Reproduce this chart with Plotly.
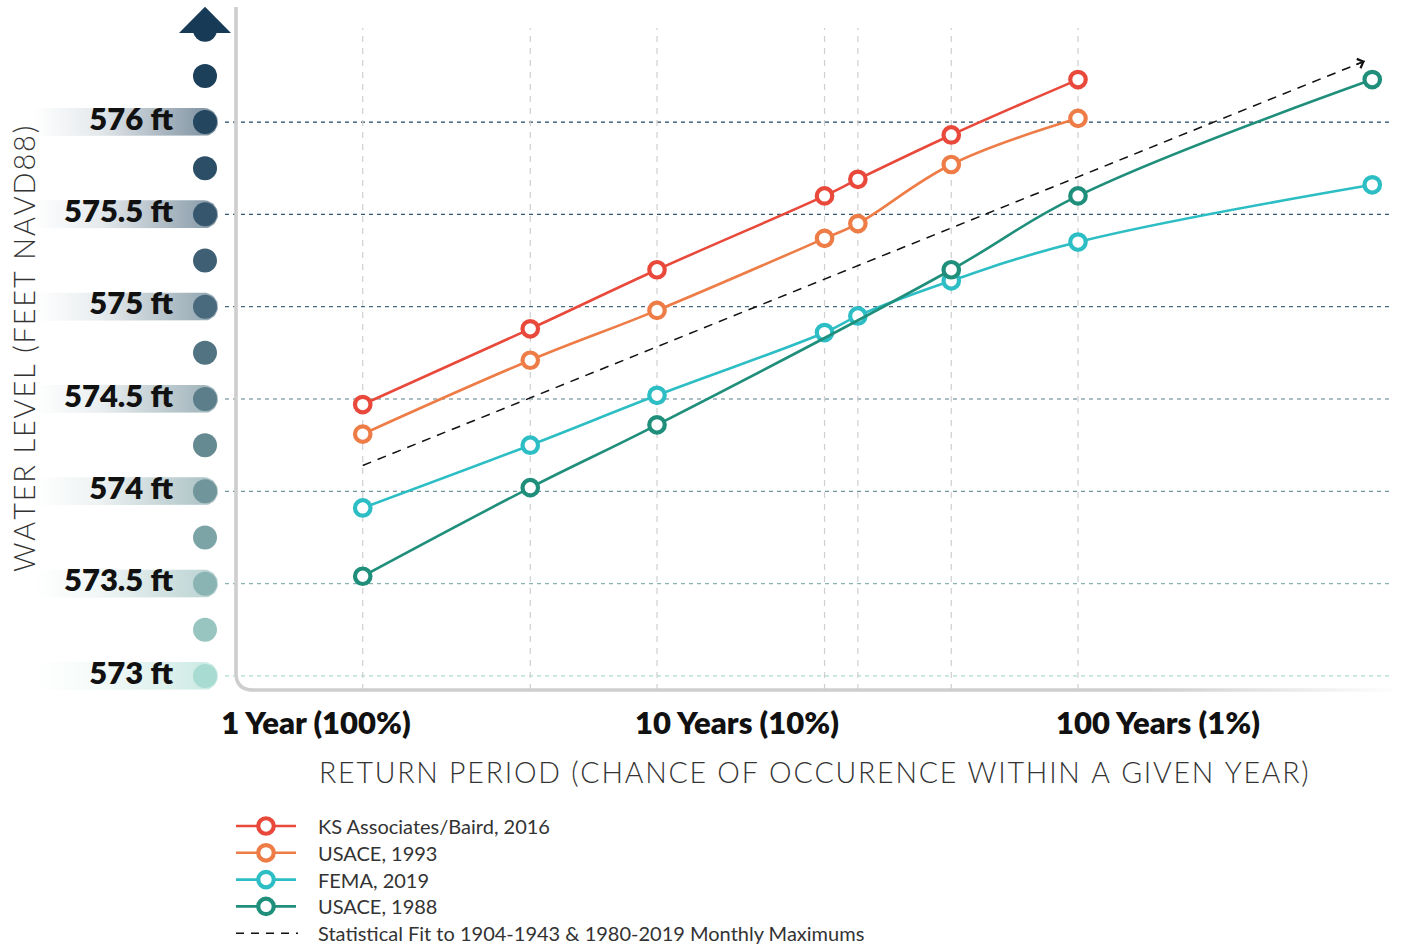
import numpy as np
import plotly.graph_objects as go

W, H = 1403, 948

# ---------------- data ----------------
ks_periods = [2, 5, 10, 25, 30, 50, 100]
ks_levels = [574.47, 574.88, 575.20, 575.60, 575.69, 575.93, 576.23]

usace93_periods = [2, 5, 10, 25, 30, 50, 100]
usace93_levels = [574.31, 574.71, 574.98, 575.37, 575.45, 575.77, 576.02]

fema_periods = [2, 5, 10, 25, 30, 50, 100, 500]
fema_levels = [573.91, 574.25, 574.52, 574.86, 574.95, 575.14, 575.35, 575.66]

usace88_periods = [2, 5, 10, 50, 100, 500]
usace88_levels = [573.54, 574.02, 574.36, 575.20, 575.60, 576.23]

fit_periods = [2, 480]
fit_levels = [574.14, 576.33]

grid_periods = [2, 5, 10, 25, 30, 50, 100]

series_names = ["KS Associates/Baird, 2016", "USACE, 1993", "FEMA, 2019", "USACE, 1988"]
series_colors = ["#E8493B", "#EE7C46", "#2CBEC4", "#1F8F7B"]
fit_name = "Statistical Fit to 1904-1943 & 1980-2019 Monthly Maximums"

tick_periods = [1, 10, 100]
tick_labels = ["1 Year (100%)", "10 Years (10%)", "100 Years (1%)"]

label_levels = [576, 575.5, 575, 574.5, 574, 573.5, 573]
label_texts = ["576 ft", "575.5 ft", "575 ft", "574.5 ft", "574 ft", "573.5 ft", "573 ft"]
gauge_levels = [576.5, 576.25, 576, 575.75, 575.5, 575.25, 575, 574.75, 574.5,
                574.25, 574, 573.75, 573.5, 573.25, 573]
gauge_colors = ["#173A56", "#1C3F5A", "#24465F", "#2C4E66", "#35566D", "#3E5F74", "#486A7C",
                "#527482", "#5B7E8A", "#668A92", "#70969B", "#7CA4A6", "#8AB4B3", "#99C5C0", "#A8DBD1"]

x_title = "RETURN PERIOD (CHANCE OF OCCURENCE WITHIN A GIVEN YEAR)"
y_title = "WATER LEVEL (FEET NAVD88)"

# ---------------- layout geometry ----------------
PLOT_L, PLOT_R, PLOT_B = 236, 1395, 690
X_RANGE = [0, 2.753]
Y_RANGE = [572.924, 576.661]
PX_PER_FT = PLOT_B / (Y_RANGE[1] - Y_RANGE[0])

def spaced(s, gap="\u200a"):
    return gap.join(list(s))

def hexrgb(c):
    c = c.lstrip("#")
    return tuple(int(c[i:i + 2], 16) for i in (0, 2, 4))

fig = go.Figure()

# ---------------- gauge (left decoration) ----------------
color_of = dict(zip(gauge_levels, gauge_colors))
half = 14 / PX_PER_FT
for lvl, txt in zip(label_levels, label_texts):
    r, g, b = hexrgb(color_of[lvl])
    ang = np.linspace(-np.pi / 2, np.pi / 2, 25)
    bx = [34, 204] + list(204 + 14 * np.cos(ang)) + [204, 34]
    by = [lvl - half, lvl - half] + list(lvl + half * np.sin(ang)) + [lvl + half, lvl + half]
    fig.add_trace(go.Scatter(
        x=bx, y=by, xaxis="x2", yaxis="y", mode="lines", fill="toself",
        line=dict(width=0), hoverinfo="skip", showlegend=False,
        fillgradient=dict(type="horizontal",
                          colorscale=[[0, f"rgba({r},{g},{b},0)"], [0.35, f"rgba({r},{g},{b},0.12)"],
                                      [1, f"rgba({r},{g},{b},0.62)"]]),
    ))

# top arrow of the gauge
fig.add_trace(go.Scatter(
    x=[179, 205, 231, 179], y=[576.482, 576.625, 576.482, 576.482], xaxis="x2", yaxis="y",
    mode="lines", fill="toself", fillcolor=gauge_colors[0], line=dict(width=0, color=gauge_colors[0]),
    hoverinfo="skip", showlegend=False))

fig.add_trace(go.Scatter(
    x=[205] * len(gauge_levels), y=gauge_levels, xaxis="x2", yaxis="y", mode="markers",
    marker=dict(size=24, color=gauge_colors, line=dict(width=0)),
    hoverinfo="skip", showlegend=False))

fig.add_trace(go.Scatter(
    x=[173] * len(label_levels), y=label_levels, xaxis="x2", yaxis="y", mode="text",
    text=label_texts, textposition="middle left",
    textfont=dict(family="Lato", size=31, color="#111111", weight=800),
    hoverinfo="skip", showlegend=False))

# ---------------- main series ----------------
all_series = [(ks_periods, ks_levels), (usace93_periods, usace93_levels),
              (fema_periods, fema_levels), (usace88_periods, usace88_levels)]

fig.add_trace(go.Scatter(
    x=fit_periods, y=fit_levels, mode="lines", name=fit_name,
    line=dict(color="#111111", width=1.5, dash="9px,7px"), showlegend=False))

for (px, py), nm, col in zip(all_series, series_names, series_colors):
    fig.add_trace(go.Scatter(
        x=px, y=py, mode="lines+markers", name=nm,
        line=dict(color=col, width=2.6, shape="spline", smoothing=1.1),
        marker=dict(symbol="circle", size=15.5, color="white", line=dict(color=col, width=4.2)),
        showlegend=False))

# ---------------- manual legend ----------------
LEG_Y0, LEG_DY = 826, 26.8
for i, (nm, col) in enumerate(zip(series_names, series_colors)):
    yy = LEG_Y0 + i * LEG_DY
    fig.add_trace(go.Scatter(
        x=[236, 296], y=[yy, yy], xaxis="x3", yaxis="y3", mode="lines",
        line=dict(color=col, width=2.6), hoverinfo="skip", showlegend=False))
    fig.add_trace(go.Scatter(
        x=[266], y=[yy], xaxis="x3", yaxis="y3", mode="markers",
        marker=dict(size=15.5, color="white", line=dict(color=col, width=4.2)),
        hoverinfo="skip", showlegend=False))
yy = LEG_Y0 + 4 * LEG_DY
fig.add_trace(go.Scatter(
    x=[236, 298], y=[yy, yy], xaxis="x3", yaxis="y3", mode="lines",
    line=dict(color="#111111", width=1.5, dash="8px,7px"), hoverinfo="skip", showlegend=False))
for i, nm in enumerate(series_names + [fit_name]):
    fig.add_annotation(x=316, y=LEG_Y0 + i * LEG_DY, xref="x3", yref="y3", text=nm,
                       showarrow=False, xanchor="left", yanchor="middle",
                       font=dict(family="Lato", size=20, color="#333333"))

# ---------------- axis line with fade ----------------
fig.add_trace(go.Scatter(
    x=[252, 1400, 1400, 252, 252], y=[688.2, 688.2, 691.8, 691.8, 688.2], xaxis="x3", yaxis="y3",
    mode="lines", fill="toself", line=dict(width=0), hoverinfo="skip", showlegend=False,
    fillgradient=dict(type="horizontal",
                      colorscale=[[0, "rgba(206,206,206,1)"], [0.78, "rgba(206,206,206,1)"],
                                  [1, "rgba(206,206,206,0)"]])))

shapes = []
shapes.append(dict(type="path", xref="x3", yref="y3",
                   path="M 236,7 L 236,673 Q 236,690 253,690",
                   line=dict(color="#CECECE", width=3.6), layer="above"))

# horizontal gridlines coloured like the gauge
for lvl in label_levels:
    shapes.append(dict(type="line", xref="paper", yref="y", x0=225 / W, x1=1393 / W, y0=lvl, y1=lvl,
                       line=dict(color=color_of[lvl], width=1.2, dash="4px,4px"), layer="below"))
# vertical gridlines (shapes on a log axis take data values)
for t in grid_periods:
    shapes.append(dict(type="line", xref="x", yref="paper", x0=t, x1=t,
                       y0=1 - PLOT_B / H, y1=1 - 28 / H,
                       line=dict(color="#CFCFCF", width=1.2, dash="6px,6px"), layer="below"))

# arrow head of statistical fit
fig.add_annotation(x=np.log10(fit_periods[-1]), y=fit_levels[-1], xref="x", yref="y",
                   ax=-10, ay=4, showarrow=True, arrowhead=4, arrowsize=1.3, arrowwidth=1.5,
                   arrowcolor="#111111", text="", standoff=0)

# titles
fig.add_annotation(x=814 / W, y=1 - 772 / H, xref="paper", yref="paper", showarrow=False,
                   text=spaced(x_title), font=dict(family="Lato", size=28.5, color="#333333", weight=300),
                   xanchor="center", yanchor="middle")
fig.add_annotation(x=23 / W, y=1 - 349 / H, xref="paper", yref="paper", showarrow=False,
                   text=spaced(y_title), textangle=-90,
                   font=dict(family="Lato", size=29, color="#333333", weight=300),
                   xanchor="center", yanchor="middle")

fig.update_layout(
    width=W, height=H, margin=dict(l=0, r=0, t=0, b=0, autoexpand=False),
    paper_bgcolor="white", plot_bgcolor="rgba(0,0,0,0)",
    showlegend=False, shapes=shapes,
    xaxis=dict(type="log", domain=[PLOT_L / W, PLOT_R / W], range=X_RANGE,
               showgrid=False, zeroline=False, showline=False, automargin=False,
               tickvals=tick_periods, ticktext=tick_labels, ticks="",
               ticklabelshift=80, ticklabelstandoff=12,
               tickfont=dict(family="Lato", size=31, color="#111111", weight=800),
               anchor="y", fixedrange=True),
    yaxis=dict(domain=[1 - PLOT_B / H, 1], range=Y_RANGE, showgrid=False, zeroline=False,
               showline=False, showticklabels=False, ticks="", anchor="x", fixedrange=True,
               automargin=False),
    xaxis2=dict(domain=[0, PLOT_L / W], range=[0, PLOT_L], visible=False, anchor="y",
                fixedrange=True, automargin=False),
    xaxis3=dict(domain=[0, 1], range=[0, W], visible=False, anchor="y3", fixedrange=True,
                automargin=False),
    yaxis3=dict(domain=[0, 1], range=[H, 0], visible=False, anchor="x3", fixedrange=True,
                automargin=False),
)

fig.write_html("out.html", config={"displayModeBar": False},
               post_script="document.body.style.margin='0px';")
